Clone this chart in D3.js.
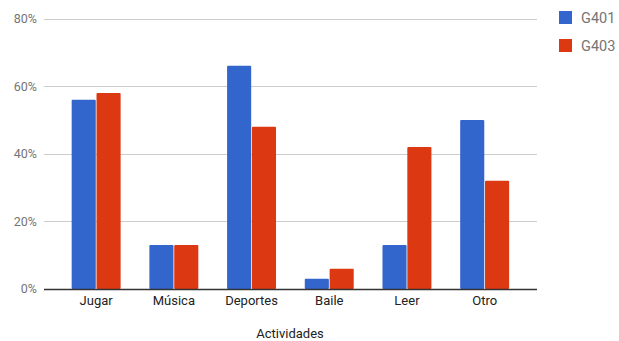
<!DOCTYPE html>
<html>
<head>
<meta charset="utf-8">
<script src="https://cdn.jsdelivr.net/npm/d3@7"></script>
<style>
  html, body { margin: 0; padding: 0; background: #fff; }
  svg { display: block; font-family: Roboto, "Noto Sans", Arial, sans-serif; }
</style>
</head>
<body>
<svg id="chart" width="619" height="341"></svg>
<script>
// Share of students per activity, by group
const categories = ["Jugar", "Música", "Deportes", "Baile", "Leer", "Otro"];
const seriesNames = ["G401", "G403"];
const g401 = [56, 13, 66, 3, 13, 50];
const g403 = [58, 13, 48, 6, 42, 32];
const yTicks = [0, 20, 40, 60, 80];
const colors = ["#3366cc", "#dc3912"];
const xTitle = "Actividades";

const svg = d3.select("#chart");

const plotLeft = 44, plotRight = 537, plotTop = 18.5, plotBottom = 289;

const y = d3.scaleLinear().domain([0, 80]).range([plotBottom, plotTop]);
const x = d3.scaleBand().domain(categories).range([57.3, 523.5])
  .paddingInner(0.37).paddingOuter(0.185);
const xs = d3.scaleBand().domain(seriesNames).range([0, x.bandwidth()]).paddingInner(0.03);

// horizontal gridlines
svg.append("g").selectAll("line").data(yTicks.filter(t => t > 0)).join("line")
  .attr("x1", plotLeft).attr("x2", plotRight)
  .attr("y1", d => Math.round(y(d)) + 0.5).attr("y2", d => Math.round(y(d)) + 0.5)
  .attr("stroke", "#cccccc").attr("stroke-width", 1);

// y tick labels
svg.append("g").selectAll("text").data(yTicks).join("text")
  .attr("x", 37).attr("y", d => y(d)).attr("dy", "0.35em")
  .attr("text-anchor", "end").attr("font-size", 12.5).attr("fill", "#757575")
  .text(d => d + "%");

// bars
const rows = categories.map((c, i) => ({ cat: c, vals: [g401[i], g403[i]] }));
const groups = svg.append("g").selectAll("g").data(rows).join("g")
  .attr("transform", d => `translate(${x(d.cat)},0)`);
groups.selectAll("rect").data(d => d.vals.map((v, j) => ({ s: seriesNames[j], v, j }))).join("rect")
  .attr("x", d => xs(d.s)).attr("width", xs.bandwidth())
  .attr("y", d => y(d.v)).attr("height", d => y(0) - y(d.v))
  .attr("rx", 1).attr("fill", d => colors[d.j]);

// baseline
svg.append("line").attr("x1", plotLeft).attr("x2", plotRight)
  .attr("y1", y(0) + 0.5).attr("y2", y(0) + 0.5)
  .attr("stroke", "#333333").attr("stroke-width", 1.3);

// x axis labels
svg.append("g").selectAll("text").data(categories).join("text")
  .attr("x", d => x(d) + x.bandwidth() / 2).attr("y", 305)
  .attr("text-anchor", "middle").attr("font-size", 13).attr("fill", "#222222")
  .text(d => d);

svg.append("text").attr("x", 290).attr("y", 338)
  .attr("text-anchor", "middle").attr("font-size", 13).attr("fill", "#222222")
  .text(xTitle);

// legend
const legend = svg.append("g").selectAll("g").data(seriesNames).join("g")
  .attr("transform", (d, i) => `translate(559,${11 + i * 28})`);
legend.append("rect").attr("width", 13).attr("height", 13)
  .attr("fill", (d, i) => colors[i]);
legend.append("text").attr("x", 22).attr("y", 6.5).attr("dy", "0.36em")
  .attr("font-size", 14.5).attr("fill", "#757575").text(d => d);
</script>
</body>
</html>
